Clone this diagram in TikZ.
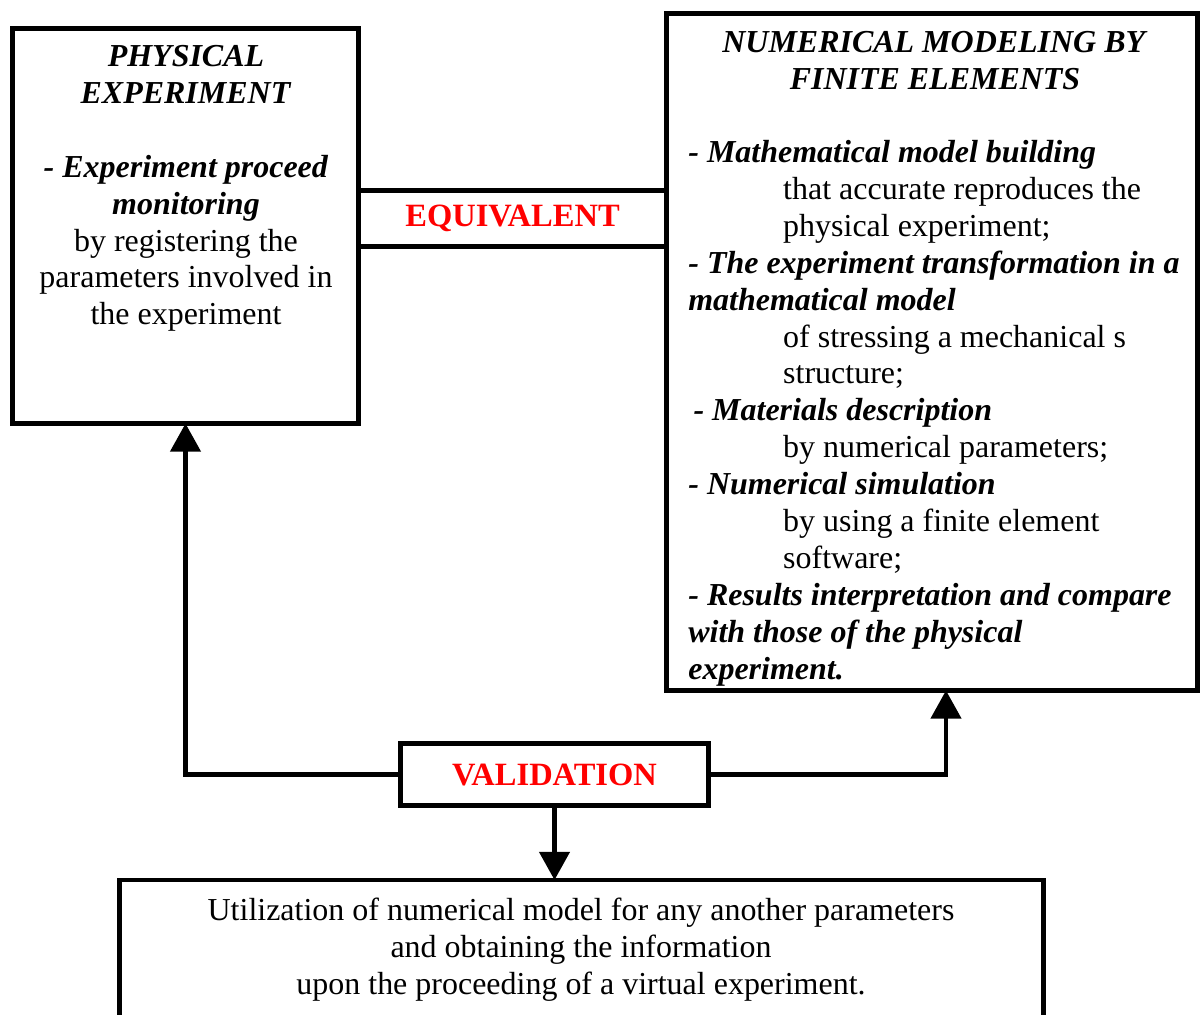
\documentclass[tikz,border=0pt]{standalone}
\usepackage{fontspec}
\setmainfont{Liberation Serif}
\usepackage{tikz}
\usetikzlibrary{arrows.meta,calc,positioning}

\newcommand{\bfit}[1]{\textbf{\textit{#1}}}
\newcommand{\subind}{\hspace*{54pt}}

\begin{document}
\begin{tikzpicture}[x=0.02cm,y=-0.02cm,
    box/.style={draw, line width=2.7pt, inner sep=0pt, outer sep=0pt},
    tag/.style={text=red, font=\fontsize{18.5}{21}\selectfont\bfseries},
    txt/.style={inner sep=0pt, font=\fontsize{18.2}{21}\selectfont},
    link/.style={line width=2.6pt, -{Triangle[length=16pt,width=17pt]}}]
  \useasboundingbox (0,0) rectangle (1202,1014);
  \clip (0,0) rectangle (1202,1014);

  % physical experiment
  \node[box, minimum width=6.92cm, minimum height=7.90cm] (phys) at (185.5,226) {};
  \node[txt, align=center, anchor=north] (physt) at (186,45)
    {\bfit{PHYSICAL}\\ \bfit{EXPERIMENT}\\[21pt]
     \bfit{- Experiment proceed}\\ \bfit{monitoring}\\
     by registering the\\ parameters involved in\\ the experiment};

  % numerical modeling
  \node[box, minimum width=10.62cm, minimum height=13.54cm] (num) at (932,352) {};
  \node[txt, align=center, anchor=north] (numt) at (935,31)
    {\bfit{NUMERICAL MODELING BY}\\ \bfit{FINITE ELEMENTS}};
  \node[txt, align=left, anchor=north west] (numl) at (688,140)
    {\bfit{- Mathematical model building}\\
     \subind that accurate reproduces the\\
     \subind physical experiment;\\
     \bfit{- The experiment transformation in a}\\
     \bfit{mathematical model}\\
     \subind of stressing a mechanical s\\
     \subind structure;\\
     \hspace*{3pt}\bfit{- Materials description}\\
     \subind by numerical parameters;\\
     \bfit{- Numerical simulation}\\
     \subind by using a finite element\\
     \subind software;\\
     \bfit{- Results interpretation and compare}\\
     \bfit{with those of the physical}\\
     \bfit{experiment.}};

  % equivalent
  \node[box, tag, minimum width=6.14cm, minimum height=1.12cm] (equiv) at (512.5,218.5) {EQUIVALENT};

  % validation
  \node[box, tag, minimum width=6.16cm, minimum height=1.24cm] (val) at (554.5,774.5) {VALIDATION};

  % virtual experiment
  \node[box, minimum width=18.48cm, minimum height=3.2cm] (util) at (581.5,960) {};
  \node[txt, align=center, anchor=north] (utilt) at (581,898)
    {Utilization of numerical model for any another parameters\\
     and obtaining the information\\
     upon the proceeding of a virtual experiment.};

  % arrows
  \draw[link] (val.west) -| (phys.south);
  \draw[link] (val.east) -| ($(num.south)+(14,0)$);
  \draw[link] (val.south) -- (val.south |- util.north);
\end{tikzpicture}
\end{document}
